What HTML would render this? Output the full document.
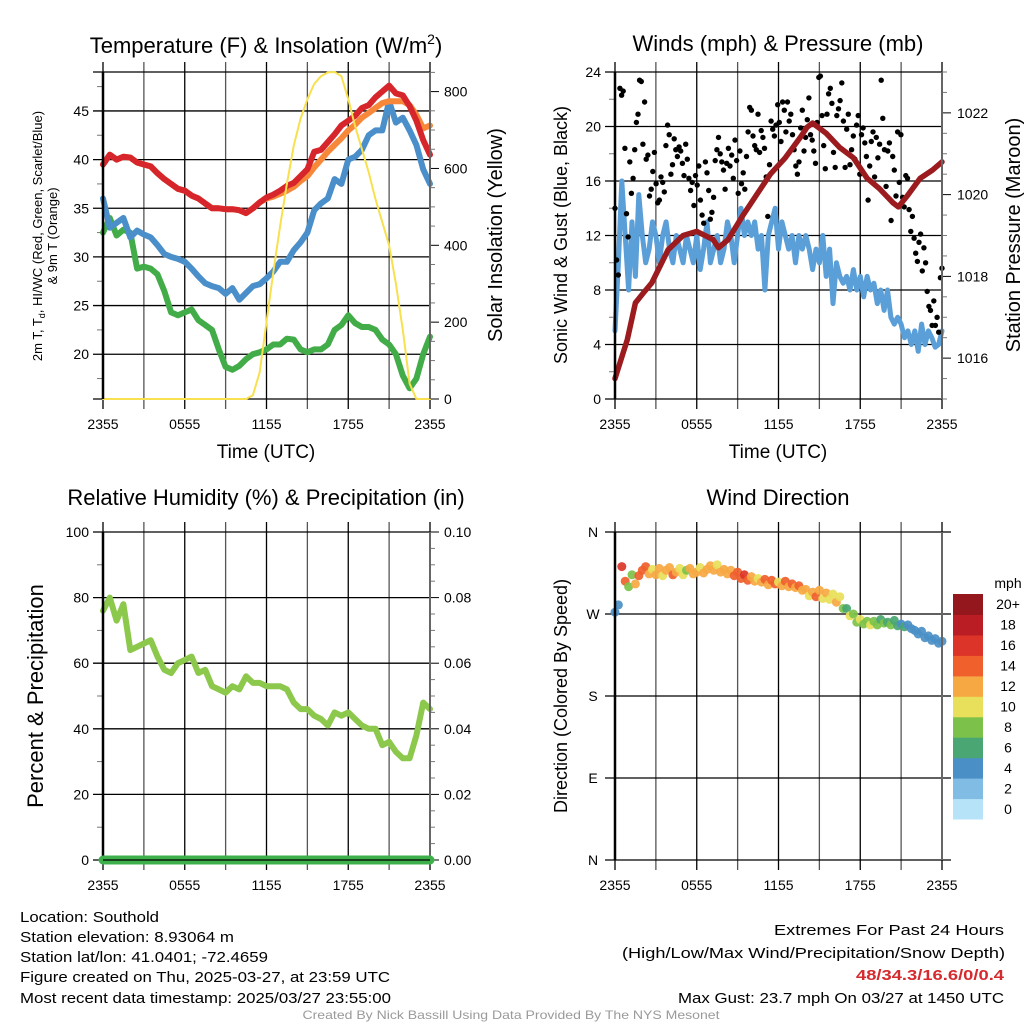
<!DOCTYPE html>
<html><head><meta charset="utf-8"><title>Southhold Meteogram</title>
<style>
html,body{margin:0;padding:0;background:#fff;}
svg{display:block;font-family:"Liberation Sans",Arial,sans-serif;}
</style></head>
<body>
<svg id="fig" width="1024" height="1024" viewBox="0 0 1024 1024" xmlns="http://www.w3.org/2000/svg">
<rect x="0" y="0" width="1024" height="1024" fill="#fff"/>
<g id="layer"></g>

<text x="266" y="53" font-size="22" text-anchor="middle">Temperature (F) &amp; Insolation (W/m<tspan font-size="14" dy="-9">2</tspan><tspan dy="9">)</tspan></text>
<text x="778" y="51" font-size="22" text-anchor="middle">Winds (mph) &amp; Pressure (mb)</text>
<text x="266" y="505" font-size="22" text-anchor="middle">Relative Humidity (%) &amp; Precipitation (in)</text>
<text x="778" y="505" font-size="22" text-anchor="middle">Wind Direction</text>

<text x="266" y="458" font-size="19" text-anchor="middle">Time (UTC)</text>
<text x="778" y="458" font-size="19" text-anchor="middle">Time (UTC)</text>

<text transform="translate(42,236) rotate(-90)" font-size="13" text-anchor="middle">2m T, T<tspan font-size="9" dy="3">d</tspan><tspan dy="-3">, HI/WC (Red, Green, Scarlet/Blue)</tspan></text>
<text transform="translate(57,236) rotate(-90)" font-size="13" text-anchor="middle">&amp; 9m T (Orange)</text>
<text transform="translate(502,235) rotate(-90)" font-size="20" text-anchor="middle">Solar Insolation (Yellow)</text>
<text transform="translate(567,235) rotate(-90)" font-size="18" text-anchor="middle">Sonic Wind &amp; Gust (Blue, Black)</text>
<text transform="translate(1020,235) rotate(-90)" font-size="20" text-anchor="middle">Station Pressure (Maroon)</text>
<text transform="translate(43,696) rotate(-90)" font-size="22" text-anchor="middle">Percent &amp; Precipitation</text>
<text transform="translate(567,696) rotate(-90)" font-size="18" text-anchor="middle">Direction (Colored By Speed)</text>

<g font-size="15">
<text x="20" y="922" textLength="139" lengthAdjust="spacingAndGlyphs">Location: Southold</text>
<text x="20" y="942" textLength="214" lengthAdjust="spacingAndGlyphs">Station elevation: 8.93064 m</text>
<text x="20" y="962" textLength="248" lengthAdjust="spacingAndGlyphs">Station lat/lon: 41.0401; -72.4659</text>
<text x="20" y="982" textLength="370" lengthAdjust="spacingAndGlyphs">Figure created on Thu, 2025-03-27, at 23:59 UTC</text>
<text x="20" y="1003" textLength="371" lengthAdjust="spacingAndGlyphs">Most recent data timestamp: 2025/03/27 23:55:00</text>
</g>
<g font-size="15">
<text x="1004" y="935" text-anchor="end" textLength="230" lengthAdjust="spacingAndGlyphs">Extremes For Past 24 Hours</text>
<text x="1005" y="958" text-anchor="end" textLength="383" lengthAdjust="spacingAndGlyphs">(High/Low/Max Wind/Precipitation/Snow Depth)</text>
<text x="1004" y="980" text-anchor="end" textLength="148" lengthAdjust="spacingAndGlyphs" fill="#d52a2e" font-weight="bold">48/34.3/16.6/0/0.4</text>
<text x="1004" y="1003" text-anchor="end" textLength="326" lengthAdjust="spacingAndGlyphs">Max Gust: 23.7 mph On 03/27 at 1450 UTC</text>
</g>
<text x="511" y="1019" font-size="12" fill="#9a9a9a" text-anchor="middle" textLength="417" lengthAdjust="spacingAndGlyphs">Created By Nick Bassill Using Data Provided By The NYS Mesonet</text>
</svg>

<script>
// ---------- DATA ----------
const timeTickLabels = ["2355","0555","1155","1755","2355"];
const timeTickHours = [0,6,12,18,24];
const tempTicks = [20,25,30,35,40,45];
const insolTicks = [0,200,400,600,800];
const windTicks = [0,4,8,12,16,20,24];
const pressTicks = [1016,1018,1020,1022];
const rhTicks = [0,20,40,60,80,100];
const precipTickLabels = ["0.00","0.02","0.04","0.06","0.08","0.10"];
const dirTickLabels = ["N","E","S","W","N"];
const dirTickDeg = [0,90,180,270,360];
const legendLabels = ["0","2","4","6","8","10","12","14","16","18","20+"];
const legendColors = ["#b7e3f8","#80bce4","#4a8fc5","#4aa672","#7cc24a","#e8e05a","#f6a843","#ef602d","#dc3428","#bb1d25","#93171c"];

// temperature series at 0.5 h steps
const tempRed = [39.5,40.5,40,40.3,40.2,39.7,39.5,39.3,38.6,38,37.5,37,36.8,36.3,36,35.5,35,35,34.9,34.9,34.8,34.5,35,35.6,36.1,36.4,36.8,37.3,37.6,38.3,39,40.8,41,41.8,42.6,43.5,44,44.5,45.3,45.6,46.4,47,47.6,46.8,46.6,45.5,44,42,40.5];
const tempOrange = [39.5,40.5,40,40.3,40.2,39.7,39.5,39.3,38.6,38,37.5,37,36.8,36.3,36,35.5,35,35,34.9,34.9,34.8,34.5,35,35.6,36,36.2,36.5,36.8,37.2,37.8,38.3,39.2,40,40.8,41.5,42.2,43,43.6,44.3,44.8,45.3,45.8,46,46,46,45.6,44.6,43.2,43.5];
const tempBlue = [36,33,33.5,34,32,32.7,32.3,32,31.2,30.3,30,29.8,29.5,28.8,28,27.3,27,26.8,26.2,26.8,25.6,26.3,27,27.2,27.8,28.5,29.5,29.5,30.7,31.5,32.5,34.8,35.5,36,38,37.5,40,40.3,41,42.5,43,43,46,43.8,44.3,43,41.5,39,37.5];
const tempGreen = [32.5,34,32.2,32.8,32.5,28.8,29,28.8,28.2,26.5,24.3,24,24.3,24.6,23.5,23,22.5,20.5,18.7,18.4,18.8,19.5,20,20.2,20.5,21,21,21.6,21.5,20.5,20.2,20.5,20.5,21,22.5,23,24,23.2,22.8,22.8,22.5,21.5,21,20,17.8,16.5,17.5,20,21.8];
const insolation = [0,0,0,0,0,0,0,0,0,0,0,0,0,0,0,0,0,0,0,0,0,0,10,70,200,330,450,560,660,730,780,820,840,850,851,840,780,710,650,590,520,460,400,300,180,40,0,0,0];

// wind speed at 0.25 h steps
const windSpeed = [5,10,16,12, 8,13,9,15, 12,10,11,13, 12,10,12,13, 11,10,12,11, 10,12,11,10, 12,9.5,11,13, 10,11,12,10, 11,13,12,10, 12,14,12,13, 12,13,11,12, 8,12,13,14, 11,13,12,11, 12,10,12,11, 12,11,9.5,11, 10,12,9,11, 7,10,9,8.5, 9,8,9.5,8, 9,7.5,9,8, 8.5,7,8,6.5, 8,6,5.5,6, 5.5,4.5,5,4, 5,3.5,5.5,4, 5,4.5,3.8,4, 5];
// gusts, evenly spaced over 24 h
const windGust = [14,10.2,9.1,22.8,22.3,22.6,18.4,13.6,11.9,17.4,15.1,16.2,18.3,20.3,20.9,23.4,23.3,18.7,21.8,17.6,17.9,14.9,15.4,16.7,18.1,15.8,14.4,14.6,16.3,15.9,15.2,18.6,20.1,19.4,16.5,17.2,19.1,18.3,17.8,18.5,18.2,17.3,16.4,18.7,17.6,16.2,15.3,15.9,14.2,16.4,15.7,17.1,14.6,13.5,12.9,17.4,16.6,15.3,13.2,13.7,14.8,17.5,18.3,19.2,18.0,17.4,16.8,15.4,17.3,18.4,17.1,17.9,16.2,19.0,17.5,15.1,18.2,15.8,16.6,15.4,17.8,19.6,21.4,21.2,19.3,18.6,18.3,20.9,18.1,19.7,19.2,18.4,16.3,13.4,17.2,20.4,19.8,19.3,20.1,21.6,20.3,18.9,21.8,21.2,19.6,21.8,20.4,20.9,19.4,18.3,17.1,16.5,17.4,19.9,21.2,18.2,19.2,20.5,22.1,19.4,19.0,18.2,17.3,20.3,23.6,23.7,20.8,18.6,16.9,20.9,22.4,22.8,21.7,18.1,17.0,20.8,21.3,21.9,23.2,20.4,17.0,19.8,20.9,17.2,18.3,19.3,17.6,20.1,20.8,16.5,19.4,19.9,18.8,17.8,14.6,17.1,18.9,19.6,16.3,19.2,17.7,18.7,23.4,20.6,18.3,15.6,18.2,18.8,13.1,17.8,16.8,14.9,19.6,15.9,19.4,14.8,14.1,16.4,16.2,13.9,12.3,13.4,11.8,10.7,10.1,11.5,12.1,9.4,11.1,10.0,7.9,6.8,6.5,5.4,7.2,5.4,6.0,4.9,8.9,9.6];
const pressHours = [0,0.9,1.5,2.1,2.7,3.9,5,6,7.2,7.6,8.3,9.4,10.4,11.4,12.5,13.6,14.1,14.5,15.5,16.5,17.5,18.5,19.4,20.4,20.8,21.4,22.4,23.3,24];
const pressure = [1015.5,1016.45,1017.35,1017.6,1017.84,1018.65,1019,1019.1,1018.9,1018.7,1018.9,1019.5,1020,1020.5,1020.9,1021.4,1021.65,1021.75,1021.5,1021.15,1020.9,1020.4,1020.15,1019.8,1019.7,1019.95,1020.4,1020.6,1020.8];

// RH at 0.5 h steps; precip
const relHumidity = [76,80,73,78,64,65,66,67,62,58,57,60,61,62,57,58,53,52,51,53,52,56,54,54,53,53,53,52,48,46,46,44,43,41,45,44,45,43,41,40,40,35,36,33,31,31,38,48,46];
const precipHours = [0,24];
const precip = [0,0];

// wind direction at 0.25 h steps and speed used for colouring
const windDir = [272,280,322,306, 300,313,303,312, 318,322,314,319, 313,320,312,318, 321,313,316,320, 313,318,320,314, 316,321,315,319, 323,318,324,316, 319,314,318,312, 316,309,313,307, 311,306,309,305, 308,302,307,303, 305,301,306,300, 303,299,301,296, 297,290,294,289, 296,287,293,286, 292,283,289,276, 276,268,270,261, 264,259,262,258, 262,258,264,260, 261,258,263,257, 259,256,258,254, 252,248,251,244, 246,241,243,238, 240];
const dirSpeed = [4,4,16,14, 8,8,12,14, 14,14,12,10, 12,12,10,12, 12,14,12,10, 10,8,12,12, 12,10,12,12, 12,12,10,12, 12,12,12,14, 14,14,16,14, 12,12,10,12, 14,12,14,14, 10,12,14,12, 14,12,14,12, 12,10,12,14, 12,10,12,10, 10,12,10,8, 6,10,8,8, 10,8,8,10, 8,8,6,8, 6,8,6,6, 4,6,4,4, 4,4,4,4, 4,4,4,4, 4];

// ---------- DRAWING ----------
const NS = "http://www.w3.org/2000/svg";
const layer = document.getElementById("layer");
function el(tag, parent) { const e = document.createElementNS(NS, tag); (parent || layer).appendChild(e); return e; }
function lin(d0, d1, r0, r1) { return v => r0 + (v - d0) / (d1 - d0) * (r1 - r0); }
function line(x1, y1, x2, y2, stroke, w, name, parent) {
  const e = el("line", parent);
  e.setAttribute("x1", x1); e.setAttribute("y1", y1); e.setAttribute("x2", x2); e.setAttribute("y2", y2);
  e.setAttribute("stroke", stroke); e.setAttribute("stroke-width", w);
  
  
  return e;
}
function label(x, y, txt, anchor, size, name, parent) {
  const e = el("text", parent);
  e.setAttribute("x", x); e.setAttribute("y", y); e.setAttribute("text-anchor", anchor);
  e.setAttribute("font-size", size); e.textContent = txt;
  
  
  return e;
}
function polyline(xs, ys, stroke, w, name, parent) {
  const e = el("path", parent);
  let d = "";
  for (let i = 0; i < xs.length; i++) d += (i ? "L" : "M") + xs[i].toFixed(1) + "," + ys[i].toFixed(1);
  e.setAttribute("d", d); e.setAttribute("fill", "none"); e.setAttribute("stroke", stroke);
  e.setAttribute("stroke-width", w); e.setAttribute("stroke-linejoin", "round"); e.setAttribute("stroke-linecap", "round");
  
  
  return e;
}
function stepHours(n) { const a = []; for (let i = 0; i < n; i++) a.push(i * 24 / (n - 1)); return a; }

function panelFrame(p, name) {
  const g = el("g");
  
  
  for (let h = 0; h <= 24; h += 3) {
    const x = p.x(h);
    line(x, p.y0 - 10, x, p.y1 + 10, h % 6 === 0 ? "#000" : "#555", 1.3, name + "-vgrid", g);
  }
  for (let i = 0; i < timeTickHours.length; i++) {
    label(p.x(timeTickHours[i]), p.y1 + 30, timeTickLabels[i], "middle", 14, name + "-x-tick-label", g);
  }
  return g;
}
function hGrid(p, yv, g, name, rightExt) {
  line(p.x0 - 10, yv, p.x1 + (rightExt || 0), yv, "#000", 1.3, name, g);
}

// ---- Panel 1: Temperature ----
const P1 = { x0: 103, x1: 430, y0: 72, y1: 399 };
P1.x = lin(0, 24, P1.x0, P1.x1);
const tY = lin(15.4, 49, P1.y1, P1.y0);
const iY = lin(0, 851, P1.y1, P1.y0);
{
  const g = panelFrame(P1, "temperature");
  hGrid(P1, P1.y0, g, "temperature-top-border");
  hGrid(P1, P1.y1, g, "temperature-bottom-border");
  for (const v of tempTicks) { hGrid(P1, tY(v), g, "temperature-hgrid"); label(P1.x0 - 14, tY(v) + 5, String(v), "end", 14, "temperature-y-tick-label", g); }
  for (let v = 17.5; v < 49; v += 5) line(P1.x0 - 6, tY(v), P1.x0, tY(v), "#777", 1, "temperature-minor-tick", g);
  for (let v = 0; v <= 850; v += 50) line(P1.x1, iY(v), P1.x1 + (v % 200 === 0 ? 9 : 5), iY(v), v % 200 === 0 ? "#000" : "#777", 1, "insolation-tick", g);
  for (const v of insolTicks) label(P1.x1 + 14, iY(v) + 5, String(v), "start", 14, "insolation-y-tick-label", g);
  const th = stepHours(tempRed.length);
  const xs = th.map(P1.x);
  polyline(xs, tempGreen.map(tY), "#42ad48", 6, "dewpoint-line");
  polyline(xs, tempBlue.map(tY), "#4a8fca", 6, "wind-chill-line");
  polyline(xs, tempOrange.map(tY), "#f7883a", 6, "temp-9m-line");
  polyline(xs, tempRed.map(tY), "#d7262b", 6, "temp-2m-line");
  polyline(stepHours(insolation.length).map(P1.x), insolation.map(iY), "#f8e04e", 2, "insolation-line");
  line(P1.x0, P1.y0, P1.x0, P1.y1, "#000", 2.5, "temperature-left-border");
  line(P1.x1, P1.y0, P1.x1, P1.y1, "#666", 2, "temperature-right-border");
}

// ---- Panel 2: Winds ----
const P2 = { x0: 615, x1: 942, y0: 72, y1: 399 };
P2.x = lin(0, 24, P2.x0, P2.x1);
const wY = lin(0, 24, P2.y1, P2.y0);
const pY = lin(1015, 1023, P2.y1, P2.y0);
{
  const g = panelFrame(P2, "winds");
  for (const v of windTicks) { hGrid(P2, wY(v), g, "winds-hgrid"); label(P2.x0 - 14, wY(v) + 5, String(v), "end", 14, "wind-y-tick-label", g); }
  for (let v = 2; v < 24; v += 4) line(P2.x0 - 6, wY(v), P2.x0, wY(v), "#777", 1, "wind-minor-tick", g);
  for (let v = 1015; v <= 1023; v += 0.5) line(P2.x1, pY(v), P2.x1 + (v % 2 === 0 ? 9 : 5), pY(v), v % 2 === 0 ? "#000" : "#777", 1, "pressure-tick", g);
  for (const v of pressTicks) label(P2.x1 + 15, pY(v) + 5, String(v), "start", 14, "pressure-y-tick-label", g);
  polyline(stepHours(windSpeed.length).map(P2.x), windSpeed.map(wY), "#5b9fd8", 5, "sonic-wind-line");
  const gh = stepHours(windGust.length);
  const gg = el("g");
  
  
  for (let i = 0; i < windGust.length; i++) {
    const c = el("circle", gg);
    c.setAttribute("cx", P2.x(gh[i]).toFixed(1)); c.setAttribute("cy", wY(windGust[i]).toFixed(1)); c.setAttribute("r", 2.7); c.setAttribute("fill", "#000");
    
    
  }
  polyline(pressHours.map(P2.x), pressure.map(pY), "#9b1b1e", 5.5, "pressure-line");
  line(P2.x0, P2.y0, P2.x0, P2.y1, "#000", 2.5, "winds-left-border");
  line(P2.x1, P2.y0, P2.x1, P2.y1, "#666", 2, "winds-right-border");
}

// ---- Panel 3: RH ----
const P3 = { x0: 103, x1: 430, y0: 532, y1: 860 };
P3.x = lin(0, 24, P3.x0, P3.x1);
const rY = lin(0, 100, P3.y1, P3.y0);
const prY = lin(0, 0.1, P3.y1, P3.y0);
{
  const g = panelFrame(P3, "humidity");
  for (const v of rhTicks) { hGrid(P3, rY(v), g, "humidity-hgrid"); label(P3.x0 - 14, rY(v) + 5, String(v), "end", 14, "humidity-y-tick-label", g); }
  for (let v = 10; v < 100; v += 20) line(P3.x0 - 6, rY(v), P3.x0, rY(v), "#777", 1, "humidity-minor-tick", g);
  for (let k = 0; k <= 20; k++) line(P3.x1, prY(k * 0.005), P3.x1 + (k % 4 === 0 ? 9 : 5), prY(k * 0.005), k % 4 === 0 ? "#000" : "#777", 1, "precip-tick", g);
  for (let i = 0; i < precipTickLabels.length; i++) label(P3.x1 + 14, prY(i * 0.02) + 5, precipTickLabels[i], "start", 14, "precip-y-tick-label", g);
  polyline(stepHours(relHumidity.length).map(P3.x), relHumidity.map(rY), "#8cc84b", 6, "humidity-line");
  line(P3.x0, P3.y0, P3.x0, P3.y1, "#000", 2.5, "humidity-left-border");
  line(P3.x1, P3.y0, P3.x1, P3.y1, "#666", 2, "humidity-right-border");
  polyline(precipHours.map(P3.x), precip.map(prY), "#3db04b", 9, "precip-line");
  line(P3.x0, P3.y1, P3.x1, P3.y1, "#000", 1.3, "humidity-bottom-border");
}

// ---- Panel 4: Wind direction ----
const P4 = { x0: 615, x1: 942, y0: 532, y1: 860 };
P4.x = lin(0, 24, P4.x0, P4.x1);
const dY = lin(0, 360, P4.y1, P4.y0);
function speedColor(s) { let k = Math.floor(s / 2); if (k > 10) k = 10; if (k < 0) k = 0; return legendColors[k]; }
{
  const g = panelFrame(P4, "direction");
  for (let i = 0; i < dirTickDeg.length; i++) { hGrid(P4, dY(dirTickDeg[i]), g, "direction-hgrid", 9); label(P4.x0 - 22, dY(dirTickDeg[i]) + 5, dirTickLabels[i], "middle", 14, "direction-y-tick-label", g); }
  const dh = stepHours(windDir.length);
  const dg = el("g");
  
  
  for (let i = 0; i < windDir.length; i++) {
    const c = el("circle", dg);
    c.setAttribute("cx", P4.x(dh[i]).toFixed(1)); c.setAttribute("cy", dY(windDir[i]).toFixed(1)); c.setAttribute("r", 4.5);
    c.setAttribute("fill", speedColor(dirSpeed[i])); c.setAttribute("fill-opacity", "0.92");
    
    
  }
  line(P4.x0, P4.y0, P4.x0, P4.y1, "#000", 2.5, "direction-left-border");
  line(P4.x1, P4.y0, P4.x1, P4.y1, "#666", 2, "direction-right-border");
  const lg = el("g");
  
  
  const top = 594, bot = 819, h = (bot - top) / legendColors.length;
  for (let i = 0; i < legendColors.length; i++) {
    const r = el("rect", lg);
    r.setAttribute("x", 953); r.setAttribute("y", (bot - (i + 1) * h).toFixed(1)); r.setAttribute("width", 30); r.setAttribute("height", (h + 0.5).toFixed(1));
    r.setAttribute("fill", legendColors[i]);
    
    
    label(1008, bot - (i + 0.5) * h + 5, legendLabels[i], "middle", 14, "legend-label", lg);
  }
  label(1008, 588, "mph", "middle", 14, "legend-title", lg);
}
</script>
</body></html>
